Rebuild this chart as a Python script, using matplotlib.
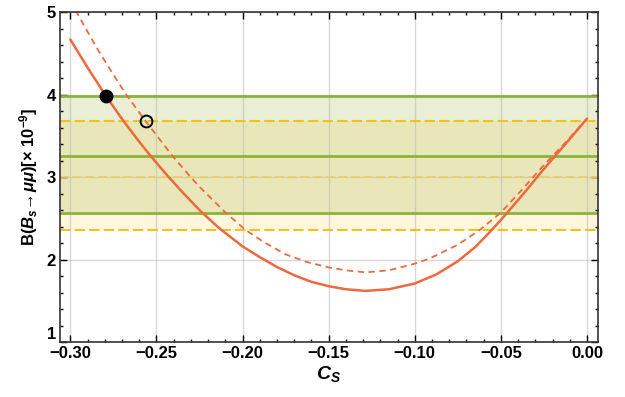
import numpy as np
import matplotlib
matplotlib.use("Agg")
import matplotlib.pyplot as plt
from matplotlib.ticker import MultipleLocator

plt.rcParams['font.family'] = ['Liberation Sans', 'DejaVu Sans']
plt.rcParams['font.weight'] = 'bold'
plt.rcParams['axes.labelweight'] = 'bold'
plt.rcParams['mathtext.fontset'] = 'custom'
plt.rcParams['mathtext.rm'] = 'Liberation Sans:bold'
plt.rcParams['mathtext.it'] = 'Liberation Sans:bold:italic'
plt.rcParams['mathtext.bf'] = 'Liberation Sans:bold'

# solid curve
cs_solid = [-0.300, -0.290, -0.2795, -0.2691, -0.260, -0.2535, -0.2441, -0.235,
            -0.2245, -0.2135, -0.200, -0.190, -0.180, -0.170, -0.160, -0.150,
            -0.140, -0.1285, -0.115, -0.100, -0.0875, -0.075, -0.065, -0.0575,
            -0.050, -0.0368, -0.0262, -0.013, 0.000]
br_solid = [4.67, 4.33, 3.99, 3.68, 3.43, 3.26, 3.03, 2.82,
            2.59, 2.38, 2.16, 2.03, 1.91, 1.81, 1.73, 1.677,
            1.64, 1.62, 1.64, 1.71, 1.82, 1.98, 2.15, 2.31,
            2.48, 2.80, 3.07, 3.39, 3.71]

# dashed curve
cs_dash = [-0.300, -0.2963, -0.285, -0.2755, -0.2675, -0.2563, -0.2408, -0.2301,
           -0.2246, -0.2099, -0.1983, -0.1875, -0.1746, -0.1625, -0.150, -0.140,
           -0.1285, -0.115, -0.100, -0.0917, -0.075, -0.0622, -0.050, -0.0368,
           -0.0262, -0.013, 0.000]
br_dash = [5.14, 5.00, 4.58, 4.26, 4.00, 3.68, 3.26, 3.00,
           2.875, 2.57, 2.36, 2.21, 2.06, 1.97, 1.905, 1.87,
           1.845, 1.87, 1.95, 2.01, 2.18, 2.36, 2.57, 2.87,
           3.12, 3.41, 3.71]

# experimental bands: low, central, high
green_band = [2.57, 3.26, 3.99]
yellow_band = [2.36, 3.00, 3.68]

# marked points
pt_filled = (-0.2795, 3.99)
pt_open = (-0.2563, 3.68)

orange = '#EC6A3D'
green = '#8DB33A'
gold = '#F2C21A'

fig = plt.figure(figsize=(6.25, 3.97), dpi=100)
ax = fig.add_axes([0.096, 0.1385, 0.8608, 0.8305])

ax.axhspan(yellow_band[0], yellow_band[2], color='#FFF6DE', lw=0, zorder=0)
ax.axhspan(green_band[0], green_band[2], color='#9BB43C', alpha=0.22, lw=0, zorder=0.5)

for v in green_band:
    ax.axhline(v, color=green, lw=2.0, zorder=2)
ax.axhline(yellow_band[0], color=gold, lw=1.5, ls=(0, (5, 2)), zorder=2)
ax.axhline(yellow_band[2], color=gold, lw=1.5, ls=(0, (5, 2)), zorder=2)
ax.axhline(yellow_band[1], color='#F0CF62', lw=1.3, ls=(0, (5, 2)), zorder=2)

ax.plot(cs_solid, br_solid, color=orange, lw=1.8, zorder=3,
        solid_joinstyle='round', solid_capstyle='round')
ax.plot(cs_dash, br_dash, color=orange, lw=1.3, ls=(0, (3.5, 2.5)), zorder=3)

ax.plot(*pt_filled, 'o', color='black', ms=9, zorder=5)
ax.plot(*pt_open, 'o', mfc='none', mec='black', mew=1.4, ms=8.5, zorder=5)

ax.set_xlim(-0.306, 0.0064)
ax.set_ylim(1, 5)
ax.xaxis.set_minor_locator(MultipleLocator(0.01))
ax.set_yticks([1, 2, 3, 4, 5])
ax.yaxis.set_minor_locator(MultipleLocator(0.2))
ax.set_xticks([-0.30, -0.25, -0.20, -0.15, -0.10, -0.05, 0.00])
ax.set_xticklabels(['\u22120.30', '\u22120.25', '\u22120.20', '\u22120.15',
                    '\u22120.10', '\u22120.05', '0.00'])
ax.grid(True, which='major', color='#B8B8B8', alpha=0.55, lw=1.0, zorder=1)

ax.tick_params(which='both', direction='in', top=True, right=True, width=1.0)
ax.tick_params(which='major', length=5, labelsize=12, pad=3)
ax.tick_params(which='minor', length=2.5)
for s in ax.spines.values():
    s.set_linewidth(1.2)
    s.set_color('#333333')
    s.set_zorder(6)

# the bottom "1" sits on the axis line, as in the original
ax.yaxis.get_major_ticks()[0].label1.set_verticalalignment('bottom')

ax.set_xlabel(r'$C_S$', fontsize=14, labelpad=2)
ax.set_ylabel(r'B($B_s\!\rightarrow\!\mu\mu$)[$\times$ 10$^{-9}$]', fontsize=12, labelpad=5)

fig.savefig('out.png', dpi=100)
